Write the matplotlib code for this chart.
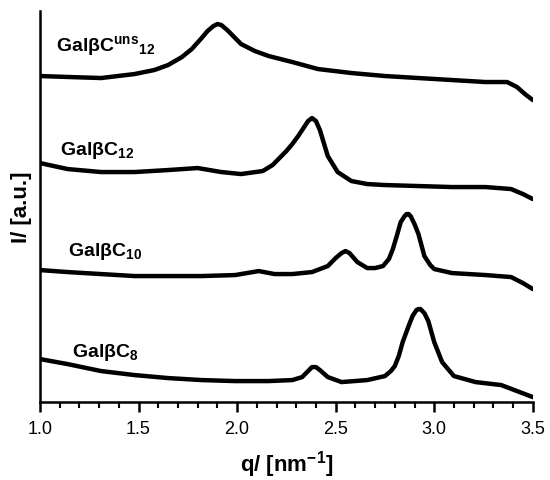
import matplotlib
matplotlib.use('Agg')
from matplotlib import pyplot as plt
from matplotlib.ticker import MultipleLocator, FormatStrFormatter

plt.rcParams['font.family'] = ['Liberation Sans', 'DejaVu Sans']
plt.rcParams['mathtext.fontset'] = 'custom'
plt.rcParams['mathtext.rm'] = 'Liberation Sans:bold'
plt.rcParams['mathtext.it'] = 'Liberation Sans:bold'
plt.rcParams['mathtext.bf'] = 'Liberation Sans:bold'

# scattering vector q [nm^-1] and stacked intensities [a.u.]
q_uns12 = [1.00, 1.15, 1.31, 1.48, 1.58, 1.65, 1.72, 1.77, 1.82, 1.85, 1.88, 1.90, 1.92, 1.95,
           1.98, 2.02, 2.09, 2.16, 2.28, 2.41, 2.58, 2.75, 2.92, 3.09, 3.26, 3.37, 3.42, 3.46, 3.50]
i_uns12 = [326, 325, 324, 328, 332, 337, 345, 353, 364, 371, 376, 378, 377, 372,
           366, 358, 351, 346, 340, 333, 329, 326, 324, 322, 320, 320, 315, 308, 302]

q_c12 = [1.00, 1.14, 1.31, 1.48, 1.65, 1.80, 1.92, 2.02, 2.13, 2.18, 2.21, 2.25, 2.28, 2.31, 2.34,
         2.36, 2.38, 2.40, 2.42, 2.44, 2.46, 2.51, 2.58, 2.66, 2.75, 2.92, 3.09, 3.26, 3.39, 3.45,
         3.50]
i_c12 = [239, 233, 230, 230, 232, 234, 230, 228, 231, 237, 243, 251, 258, 266, 275,
         281, 284, 281, 272, 259, 246, 230, 221, 218, 217, 216, 215, 215, 213, 208,
         203]

q_c10 = [1.00, 1.14, 1.31, 1.48, 1.65, 1.82, 1.99, 2.11, 2.19, 2.28, 2.38, 2.46, 2.50, 2.53, 2.55,
         2.57, 2.61, 2.66, 2.70, 2.74, 2.77, 2.79, 2.81, 2.83, 2.85, 2.86, 2.87, 2.88, 2.90, 2.92,
         2.95, 2.98, 3.00, 3.09, 3.26, 3.39, 3.45, 3.50]
i_c10 = [132, 130, 128, 126, 126, 126, 127, 131, 128, 128, 130, 136, 144, 149, 151,
         149, 140, 134, 134, 136, 143, 153, 166, 180, 186, 188, 188, 186, 178, 168,
         146, 137, 133, 129, 127, 125, 119, 113]

q_c8 = [1.00, 1.14, 1.31, 1.48, 1.65, 1.82, 1.99, 2.16, 2.28, 2.33, 2.36, 2.38, 2.40, 2.42, 2.46,
        2.53, 2.66, 2.75, 2.78, 2.80, 2.82, 2.84, 2.87, 2.89, 2.91, 2.92, 2.93, 2.95, 2.97, 3.00,
        3.04, 3.10, 3.21, 3.34, 3.42, 3.50]
i_c8 = [43, 38, 31, 27, 24, 22, 21, 21, 22, 25, 31, 35, 35, 32, 25,
        20, 22, 26, 31, 36, 46, 60, 76, 86, 92, 93, 93, 89, 81, 60,
        40, 26, 20, 17, 11, 5]

names = [r'GalβC$^{uns}{}_{12}$', r'GalβC$_{12}$', r'GalβC$_{10}$', r'GalβC$_{8}$']
name_pos = [(1.08, 357), (1.10, 253), (1.14, 152), (1.16, 51)]

fig = plt.figure(figsize=(5.5, 4.81), dpi=100)
ax = fig.add_axes([0.0727, 0.162, 0.896, 0.813])

for q, i in [(q_uns12, i_uns12), (q_c12, i_c12), (q_c10, i_c10), (q_c8, i_c8)]:
    ax.plot(q, i, color='black', lw=3.2, solid_capstyle='round', solid_joinstyle='round')

for name, (x, y) in zip(names, name_pos):
    ax.text(x, y, name, fontsize=14, fontweight='bold', ha='left', va='center')

ax.set_xlim(1.0, 3.5)
ax.set_ylim(0, 391)
ax.spines['top'].set_visible(False)
ax.spines['right'].set_visible(False)
ax.spines['left'].set_linewidth(1.8)
ax.spines['bottom'].set_linewidth(1.8)
ax.set_yticks([])
ax.xaxis.set_major_locator(MultipleLocator(0.5))
ax.xaxis.set_minor_locator(MultipleLocator(0.1))
ax.xaxis.set_major_formatter(FormatStrFormatter('%.1f'))
ax.tick_params(axis='x', which='major', direction='out', length=7, width=1.8, labelsize=13, pad=6)
ax.tick_params(axis='x', which='minor', direction='out', length=4, width=1.5)

ax.set_xlabel(r'q/ [nm$^{-1}$]', fontsize=16, fontweight='bold', labelpad=8)
ax.set_ylabel('I/ [a.u.]', fontsize=16, fontweight='bold', labelpad=6)

fig.savefig('out.png', dpi=100)
